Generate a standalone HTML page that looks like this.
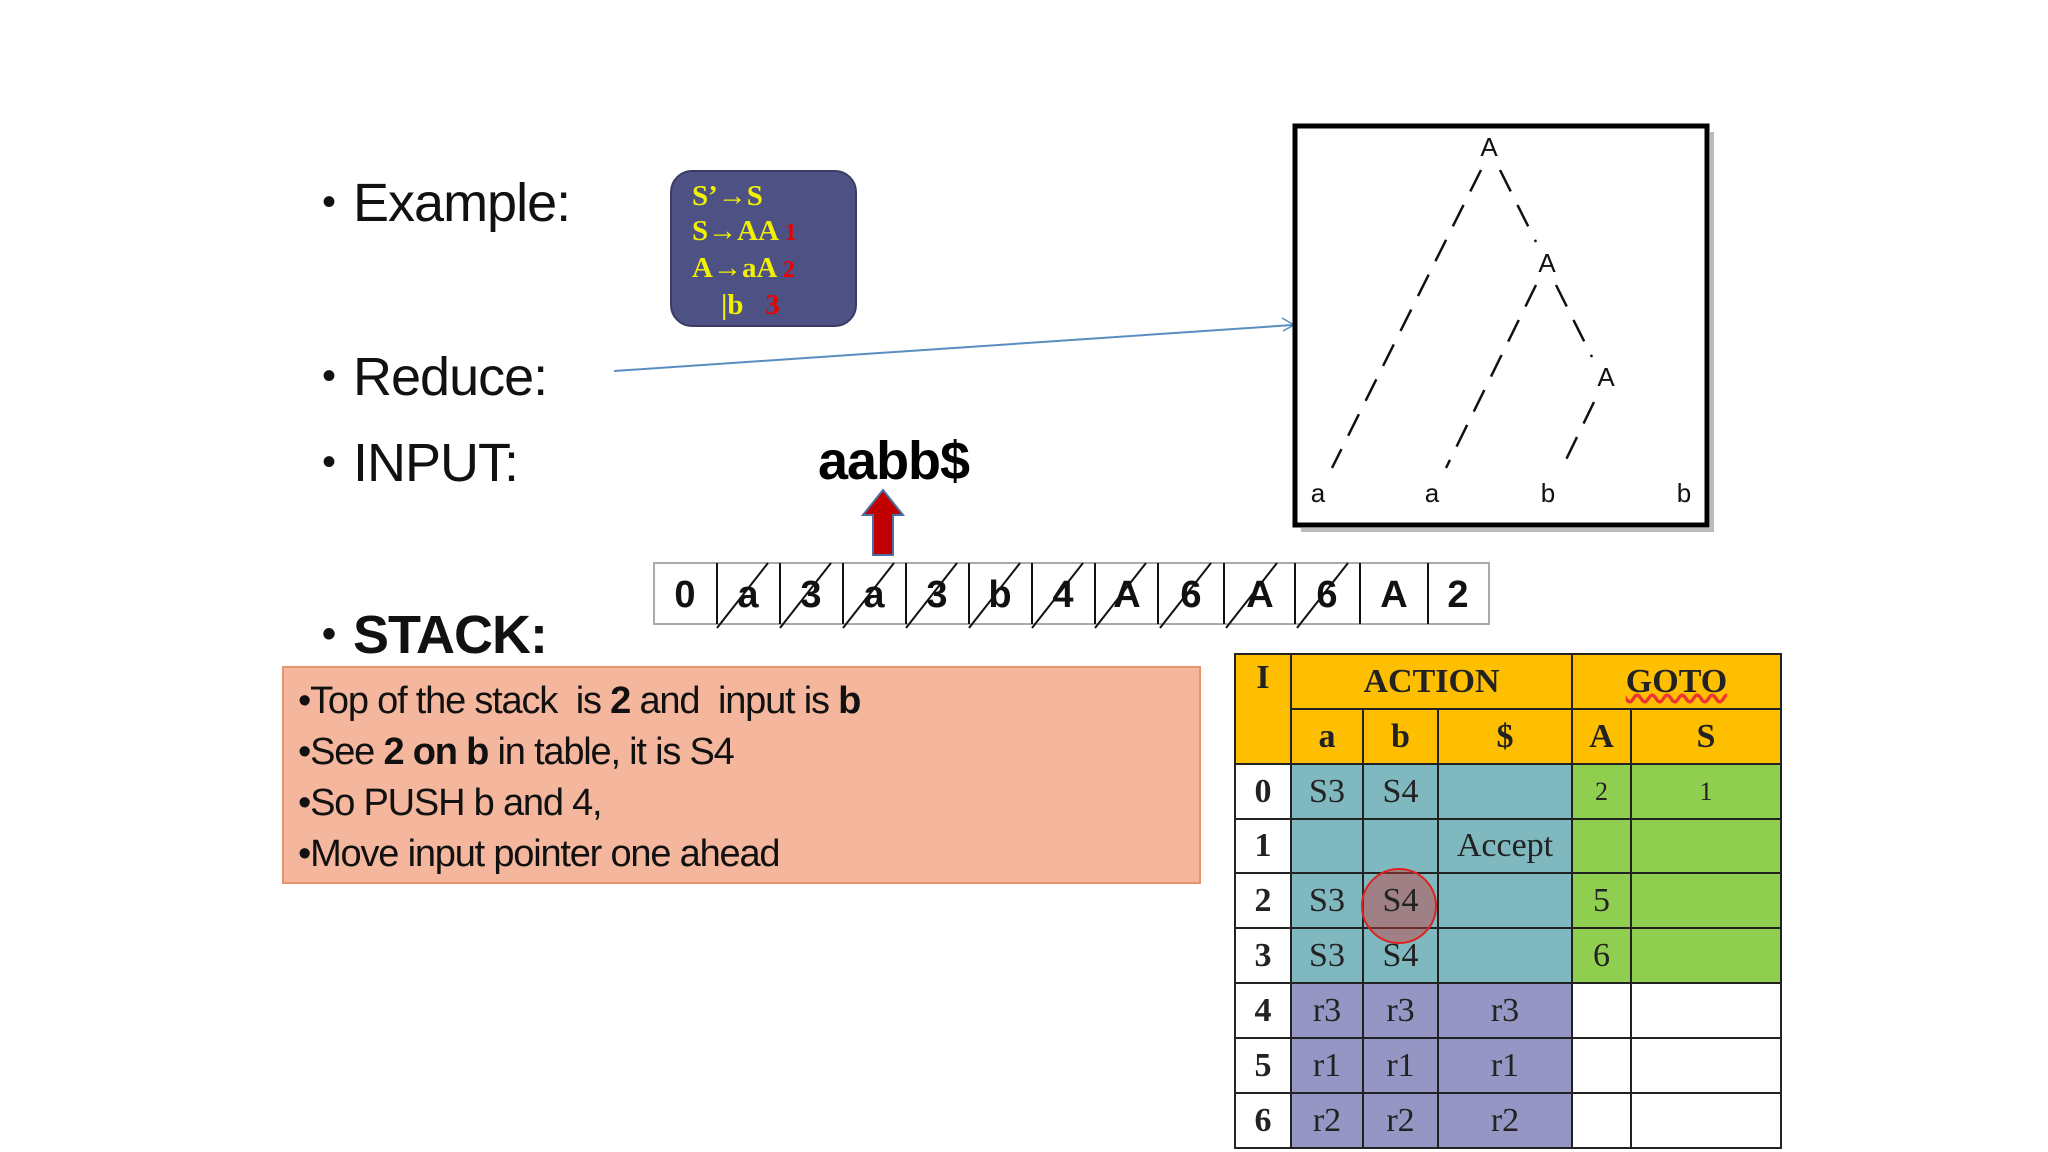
<!DOCTYPE html>
<html><head><meta charset="utf-8"><style>
body{margin:0;width:2048px;height:1152px;background:#fff;position:relative;overflow:hidden;font-family:"Liberation Sans",sans-serif}
.a{position:absolute;white-space:nowrap}
.bl{font-size:54px;color:#111;letter-spacing:-1px}
.bl .d{font-size:40px;position:relative;top:-6px;margin-right:18px}
.salm{position:absolute;left:282px;top:666px;width:919px;height:218px;background:#f4b69c;border:2px solid #e5956e;box-sizing:border-box}
.salm div{position:absolute;left:14px;font-size:38px;letter-spacing:-1.2px;color:#111}
table{position:absolute;left:1234px;top:653px;border-collapse:collapse;font-family:"Liberation Serif",serif;font-size:34px;color:#222}
td{border:2px solid #222;text-align:center;padding:0}
.y{background:#fdbf00;font-weight:bold}
.t{background:#7fb8bf}
.g{background:#8fce4e}
.p{background:#9696c4}
.w{background:#fff}
</style></head><body>
<div class="a bl" style="left:322px;top:172px"><span class="d">•</span>Example:</div>
<div class="a bl" style="left:322px;top:346px"><span class="d">•</span>Reduce:</div>
<div class="a bl" style="left:322px;top:432px"><span class="d">•</span>INPUT:</div>
<div class="a bl" style="left:322px;top:604px;font-weight:bold"><span class="d">•</span>STACK:</div>
<div class="a" style="left:818px;top:430px;font-size:54px;font-weight:bold;letter-spacing:-1px">aabb$</div>

<div class="a" style="left:670px;top:170px;width:187px;height:157px;background:#4e5183;border:2px solid #3a3c66;border-radius:22px;box-sizing:border-box;font-family:'Liberation Serif',serif;font-weight:bold;font-size:29px;color:#f2f200;line-height:35px;padding:7px 0 0 20px">
S’→S<br>S→AA <span style="color:#e00;font-size:24px">1</span><br>A→aA <span style="color:#e00;font-size:24px">2</span><br>&nbsp;&nbsp;&nbsp;&nbsp;|b &nbsp;&nbsp;<span style="color:#e00">3</span></div>

<svg class="a" style="left:0;top:0" width="2048" height="1152">
<line x1="614" y1="371" x2="1293" y2="325" stroke="#5a8ec0" stroke-width="2"/>
<polyline points="1282,318 1294,325 1283,331" fill="none" stroke="#5a8ec0" stroke-width="1.5"/>
<rect x="1295" y="126" width="412" height="399" fill="#fff" stroke="#000" stroke-width="5"/>
<rect x="1710" y="132" width="4" height="399" fill="#bbb"/><rect x="1301" y="528" width="413" height="4" fill="#bbb"/>
<g stroke="#111" stroke-width="2.5" stroke-dasharray="24,15" fill="none">
<line x1="1481" y1="170" x2="1332" y2="468"/>
<line x1="1500" y1="170" x2="1536" y2="242"/>
<line x1="1536" y1="285" x2="1446" y2="468"/>
<line x1="1556" y1="285" x2="1592" y2="357"/>
<line x1="1594" y1="402" x2="1562" y2="468"/>
</g>
<g font-family="Liberation Sans" font-size="26" fill="#111" text-anchor="middle">
<text x="1489" y="156">A</text><text x="1547" y="272">A</text><text x="1606" y="386">A</text>
<text x="1318" y="502">a</text><text x="1432" y="502">a</text><text x="1548" y="502">b</text><text x="1684" y="502">b</text>
</g>
<polygon points="873,555 893,555 893,515 903,515 883,490 863,515 873,515" fill="#c00000" stroke="#4a6fa5" stroke-width="2"/>
<g>
<rect x="654" y="563" width="835" height="61" fill="#fff" stroke="#aaa" stroke-width="2"/>
<g stroke="#111" stroke-width="2">
<line x1="717" y1="563" x2="717" y2="624"/><line x1="780" y1="563" x2="780" y2="624"/><line x1="843" y1="563" x2="843" y2="624"/><line x1="906" y1="563" x2="906" y2="624"/><line x1="969" y1="563" x2="969" y2="624"/><line x1="1032" y1="563" x2="1032" y2="624"/><line x1="1095" y1="563" x2="1095" y2="624"/><line x1="1158" y1="563" x2="1158" y2="624"/><line x1="1224" y1="563" x2="1224" y2="624"/><line x1="1295" y1="563" x2="1295" y2="624"/><line x1="1360" y1="563" x2="1360" y2="624"/><line x1="1428" y1="563" x2="1428" y2="624"/>
<line x1="717" y1="628" x2="768" y2="563"/><line x1="780" y1="628" x2="831" y2="563"/><line x1="843" y1="628" x2="894" y2="563"/><line x1="906" y1="628" x2="957" y2="563"/><line x1="969" y1="628" x2="1020" y2="563"/><line x1="1032" y1="628" x2="1083" y2="563"/><line x1="1095" y1="628" x2="1146" y2="563"/><line x1="1160" y1="628" x2="1211" y2="563"/><line x1="1226" y1="628" x2="1277" y2="563"/><line x1="1297" y1="628" x2="1348" y2="563"/>
</g>
<g font-family="Liberation Sans" font-size="38" font-weight="bold" fill="#111" text-anchor="middle">
<text x="685" y="607">0</text><text x="748" y="607">a</text><text x="811" y="607">3</text><text x="874" y="607">a</text><text x="937" y="607">3</text><text x="1000" y="607">b</text><text x="1063" y="607">4</text><text x="1127" y="607">A</text><text x="1191" y="607">6</text><text x="1260" y="607">A</text><text x="1327" y="607">6</text><text x="1394" y="607">A</text><text x="1458" y="607">2</text>
</g></g>
</svg>

<div class="salm">
<div style="top:12px">•Top of the stack&nbsp; is <b>2</b> and&nbsp; input is <b>b</b></div>
<div style="top:63px">•See <b>2 on b</b> in table, it is S4</div>
<div style="top:114px">•So PUSH b and 4,</div>
<div style="top:165px">•Move input pointer one ahead</div>
</div>

<table>
<colgroup><col style="width:56px"><col style="width:72px"><col style="width:75px"><col style="width:134px"><col style="width:59px"><col style="width:150px"></colgroup>
<tr style="height:55px"><td class="y" rowspan="2" style="vertical-align:top;padding-top:4px">I</td><td class="y" colspan="3">ACTION</td><td class="y" colspan="2"><span style="text-decoration:underline wavy #e33">GOTO</span></td></tr>
<tr style="height:55px"><td class="y">a</td><td class="y">b</td><td class="y">$</td><td class="y">A</td><td class="y">S</td></tr>
<tr style="height:55px"><td class="w" style="font-weight:bold">0</td><td class="t">S3</td><td class="t">S4</td><td class="t"></td><td class="g" style="font-size:26px">2</td><td class="g" style="font-size:26px">1</td></tr>
<tr style="height:54px"><td class="w" style="font-weight:bold">1</td><td class="t"></td><td class="t"></td><td class="t">Accept</td><td class="g"></td><td class="g"></td></tr>
<tr style="height:55px"><td class="w" style="font-weight:bold">2</td><td class="t">S3</td><td class="t" style="position:relative"><div style="position:absolute;left:-3px;top:-6px;width:76px;height:76px;border:2px solid #d22;border-radius:50%;background:rgba(200,60,60,0.45);box-sizing:border-box"></div><span style="position:relative">S4</span></td><td class="t"></td><td class="g">5</td><td class="g"></td></tr>
<tr style="height:55px"><td class="w" style="font-weight:bold">3</td><td class="t">S3</td><td class="t">S4</td><td class="t"></td><td class="g">6</td><td class="g"></td></tr>
<tr style="height:55px"><td class="w" style="font-weight:bold">4</td><td class="p">r3</td><td class="p">r3</td><td class="p">r3</td><td class="w"></td><td class="w"></td></tr>
<tr style="height:55px"><td class="w" style="font-weight:bold">5</td><td class="p">r1</td><td class="p">r1</td><td class="p">r1</td><td class="w"></td><td class="w"></td></tr>
<tr style="height:55px"><td class="w" style="font-weight:bold">6</td><td class="p">r2</td><td class="p">r2</td><td class="p">r2</td><td class="w"></td><td class="w"></td></tr>
</table>
</body></html>
